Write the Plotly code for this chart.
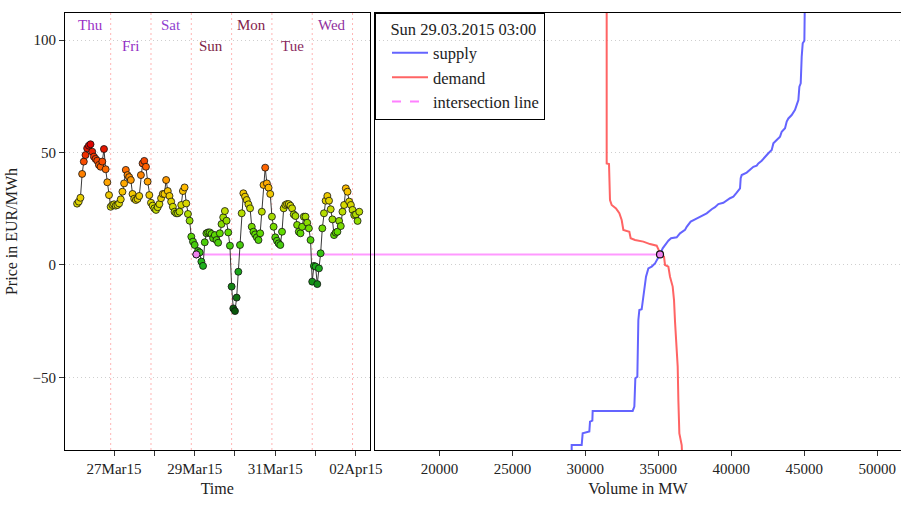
import plotly.graph_objects as go

# ---------------- data ----------------
hours = list(range(4, 173))
prices = [
    27.3, 28.2, 29.9, 40.5, 46.0, 48.9, 51.9, 53.1, 53.7, 50.4,
    48.2, 47.2, 46.4, 44.5, 43.7, 46.0, 51.6, 42.6, 36.8, 31.1,
    25.9, 26.7, 27.0, 26.4, 26.7, 27.4, 29.2, 32.6, 36.3, 42.3,
    40.0, 39.1, 37.8, 31.6, 29.5, 28.9, 29.4, 30.7, 40.0, 45.2,
    46.3, 43.7, 37.1, 31.1, 27.7, 26.4, 25.2, 24.5, 25.7, 27.1,
    29.7, 31.6, 31.6, 37.8, 32.9, 30.7, 28.2, 25.9, 23.7, 23.0,
    23.0, 23.7, 26.7, 32.9, 34.5, 27.4, 22.7, 19.7, 12.6, 10.4,
    8.9, 4.7, 6.2, 5.6, 1.5, -0.4, 10.1, 14.1, 14.5, 14.5,
    13.8, 11.9, 13.3, 11.1, 9.9, 14.1, 18.2, 21.2, 24.0, 19.7,
    14.5, 8.6, -9.6, -19.3, -20.5, -14.5, -3.0, 8.9, 23.0, 31.9,
    30.4, 28.9, 27.0, 25.2, 17.0, 14.8, 13.6, 12.3, 11.1, 14.1,
    23.7, 35.6, 43.3, 36.3, 34.4, 31.6, 21.5, 17.0, 12.3, 10.8,
    9.6, 8.9, 14.8, 25.2, 26.7, 27.1, 27.1, 26.4, 25.2, 22.5,
    21.8, 17.8, 14.8, 14.1, 17.0, 21.5, 21.5, 18.8, 16.3, 11.1,
    -7.4, -0.4, -0.7, -8.5, -1.5, 5.2, 16.3, 23.0, 28.6, 30.7,
    28.6, 24.8, 20.3, 13.3, 14.4, 14.8, 19.6, 17.3, 23.7, 26.7,
    34.1, 32.6, 28.2, 26.7, 24.5, 22.2, 22.5, 19.6, 23.7,
]
selected_hour = 75
selected_label = "Sun 29.03.2015 03:00"

day_names = ["Thu", "Fri", "Sat", "Sun", "Mon", "Tue", "Wed"]
day_colors = ["#9a32c6", "#9330c4", "#8f3fcf", "#7e2446", "#84234c", "#8a2a5e", "#91309e"]
day_starts = [0, 24, 48, 72, 96, 120, 144, 168]

time_tickvals = [26, 50, 74, 98, 122, 146, 170]
time_ticktext = ["27Mar15", "", "29Mar15", "", "31Mar15", "", "02Apr15"]

supply_volume = [29062, 29062, 29747, 29816, 30272, 30318, 30478, 30501, 33242, 33356,
                 33424, 33561, 33630, 33698, 33858, 33972, 34087, 34155, 34315, 34543,
                 34772, 35000, 35114, 35297, 35457, 35685, 35868, 36256, 36485, 36827,
                 36942, 37216, 37513, 37855, 38312, 38655, 38883, 39111, 39454, 39911,
                 40139, 40368, 40596, 40642, 40710, 41053, 41281, 41510, 41738, 41852,
                 42081, 42309, 42537, 42766, 42880, 43108, 43337, 43451, 43679, 43794,
                 43908, 44136, 44364, 44479, 44593, 44662, 44753, 44821, 44890, 45004,
                 45050, 45096]
supply_price = [-95, -80.1, -80.1, -74.9, -74.1, -69.7, -69.2, -64.9, -64.9, -63.0,
                -50.4, -49.7, -24.5, -20.0, -19.7, -14.1, -9.6, -5.2, -1.5, -0.7,
                0.7, 3.0, 4.7, 7.4, 8.9, 10.8, 11.9, 12.3, 14.1, 15.6,
                17.0, 19.3, 20.3, 21.5, 23.0, 24.8, 25.7, 27.1, 27.7, 29.7,
                30.4, 32.2, 34.1, 38.6, 40.0, 41.1, 42.3, 43.7, 44.2, 45.2,
                46.4, 48.2, 49.7, 51.2, 54.1, 55.6, 57.1, 59.3, 60.8, 63.8,
                65.2, 66.7, 69.0, 71.2, 73.4, 79.3, 80.8, 92.7, 98.6, 99.8,
                112.0, 150.0]

demand_volume = [31460, 31460, 31620, 31688, 31803, 32099, 32328, 32488, 32602, 33013,
                 33104, 33401, 33972, 34429, 34886, 35000, 35160, 35388, 35457, 35685,
                 35800, 35982, 36074, 36142, 36256, 36325, 36371, 36439, 36599, 36700]
demand_price = [150, 45.2, 44.9, 28.9, 26.7, 25.2, 23.0, 20.0, 15.6, 14.8,
                11.9, 11.1, 10.4, 9.3, 8.6, 6.7, 4.7, 3.7, 0.0, -0.7,
                -5.2, -9.6, -15.6, -25.2, -37.1, -45.2, -60.1, -74.9, -80.1, -95]

eq_volume = 35114
eq_price = 4.7

# ---------------- layout constants ----------------
W, H = 901, 506
FONT = "Liberation Serif"
x1_range = [-3.2, 178.1]
x2_range = [15588, 51624]
y_range = [-82.3, 112.1]
dom1 = [65 / W, 369.5 / W]
dom2 = [375 / W, 1.0]
GRID_DASH = "1px,3px"

def to_paper(v, rng, dom):
    return dom[0] + (v - rng[0]) / (rng[1] - rng[0]) * (dom[1] - dom[0])

fig = go.Figure()

fig.add_trace(go.Scatter(
    x=hours, y=prices, mode="lines+markers",
    line=dict(color="#222222", width=0.9),
    marker=dict(size=7, color=prices, cmin=-20, cmax=54, showscale=False,
                colorscale=[[0.0, "#0a560a"], [0.27, "#1eb31e"], [0.47, "#62dc00"],
                            [0.62, "#d2dc00"], [0.73, "#ffbf00"], [0.86, "#ff6200"],
                            [1.0, "#dd0000"]],
                line=dict(color="#111111", width=0.8)),
    showlegend=False, hoverinfo="x+y", xaxis="x", yaxis="y"))

sel_price = prices[hours.index(selected_hour)]
fig.add_trace(go.Scatter(
    x=[selected_hour], y=[sel_price], mode="markers",
    marker=dict(size=7, color="#ee82ee", line=dict(color="#111111", width=0.9)),
    showlegend=False, xaxis="x", yaxis="y"))

fig.add_trace(go.Scatter(x=supply_volume, y=supply_price, mode="lines", name="supply",
                         line=dict(color="#6464ff", width=2), xaxis="x2", yaxis="y2"))
fig.add_trace(go.Scatter(x=demand_volume, y=demand_price, mode="lines", name="demand",
                         line=dict(color="#ff6464", width=2), xaxis="x2", yaxis="y2"))
fig.add_trace(go.Scatter(x=[None], y=[None], mode="lines", name="intersection line",
                         line=dict(color="#ff80ff", width=2, dash="dash"),
                         xaxis="x2", yaxis="y2"))
fig.add_trace(go.Scatter(
    x=[eq_volume], y=[eq_price], mode="markers",
    marker=dict(size=7, color="#ee82ee", line=dict(color="#111111", width=1.2)),
    showlegend=False, xaxis="x2", yaxis="y2"))

shapes = []
shapes.append(dict(type="line", xref="paper", yref="y",
                   x0=to_paper(selected_hour, x1_range, dom1),
                   x1=to_paper(eq_volume, x2_range, dom2),
                   y0=eq_price, y1=eq_price,
                   line=dict(color="#ff99ff", width=2), layer="below"))
for d in day_starts[1:]:
    shapes.append(dict(type="line", xref="x", yref="y domain", x0=d, x1=d, y0=0, y1=1,
                       line=dict(color="#ffb4b4", width=1, dash="2px,3px"), layer="below"))

annotations = []
for i, (nm, col) in enumerate(zip(day_names, day_colors)):
    annotations.append(dict(x=day_starts[i] + 12, y=106.8 if i % 2 == 0 else 97.4,
                            xref="x", yref="y", text=nm, showarrow=False,
                            font=dict(family=FONT, size=15, color=col)))

axis_common = dict(showline=True, linecolor="black", linewidth=1, ticks="outside",
                   ticklen=5, tickcolor="#333333", zeroline=False, automargin=False,
                   tickfont=dict(family=FONT, size=15, color="#222222"))

fig.update_layout(
    width=W, height=H, autosize=False,
    margin=dict(l=0, r=0, t=13, b=56, pad=0, autoexpand=False),
    paper_bgcolor="white", plot_bgcolor="white",
    font=dict(family=FONT, size=15, color="#222222"),
    xaxis=dict(domain=dom1, range=x1_range, tickvals=time_tickvals, ticktext=time_ticktext,
               showgrid=False, mirror=True, anchor="y",
               title=dict(text="Time", font=dict(family=FONT, size=16), standoff=6),
               **axis_common),
    yaxis=dict(domain=[0, 1], range=y_range, tickvals=[-50, 0, 50, 100],
               showgrid=True, gridcolor="#cfcfcf", griddash=GRID_DASH, gridwidth=1,
               mirror=True, anchor="x",
               title=dict(text="Price in EUR/MWh", font=dict(family=FONT, size=16), standoff=10),
               **axis_common),
    xaxis2=dict(domain=dom2, range=x2_range, tickvals=[20000, 25000, 30000, 35000, 40000, 45000, 50000],
                tickformat="d",
                showgrid=False, mirror=True, anchor="y2",
                title=dict(text="Volume in MW", font=dict(family=FONT, size=16), standoff=6),
                **axis_common),
    yaxis2=dict(domain=[0, 1], range=y_range, tickvals=[-50, 0, 50, 100],
                showgrid=True, gridcolor="#cfcfcf", griddash=GRID_DASH, gridwidth=1,
                showticklabels=False, showline=True, linecolor="black", linewidth=1,
                ticks="", mirror=False, anchor="x2", zeroline=False, automargin=False),
    legend=dict(x=dom2[0], y=1, xanchor="left", yanchor="top",
                bgcolor="rgba(0,0,0,0)", bordercolor="black", borderwidth=1,
                font=dict(family=FONT, size=16.5, color="#222222"),
                title=dict(text="\u00a0\u00a0\u00a0" + selected_label,
                           font=dict(family=FONT, size=16.5, color="#222222")),
                itemwidth=36, indentation=11, tracegroupgap=0),
    shapes=shapes, annotations=annotations,
)

fig.write_html("out.html",
               config={"responsive": False, "displayModeBar": False},
               post_script="document.body.style.margin='0px';document.body.style.overflow='hidden';")
